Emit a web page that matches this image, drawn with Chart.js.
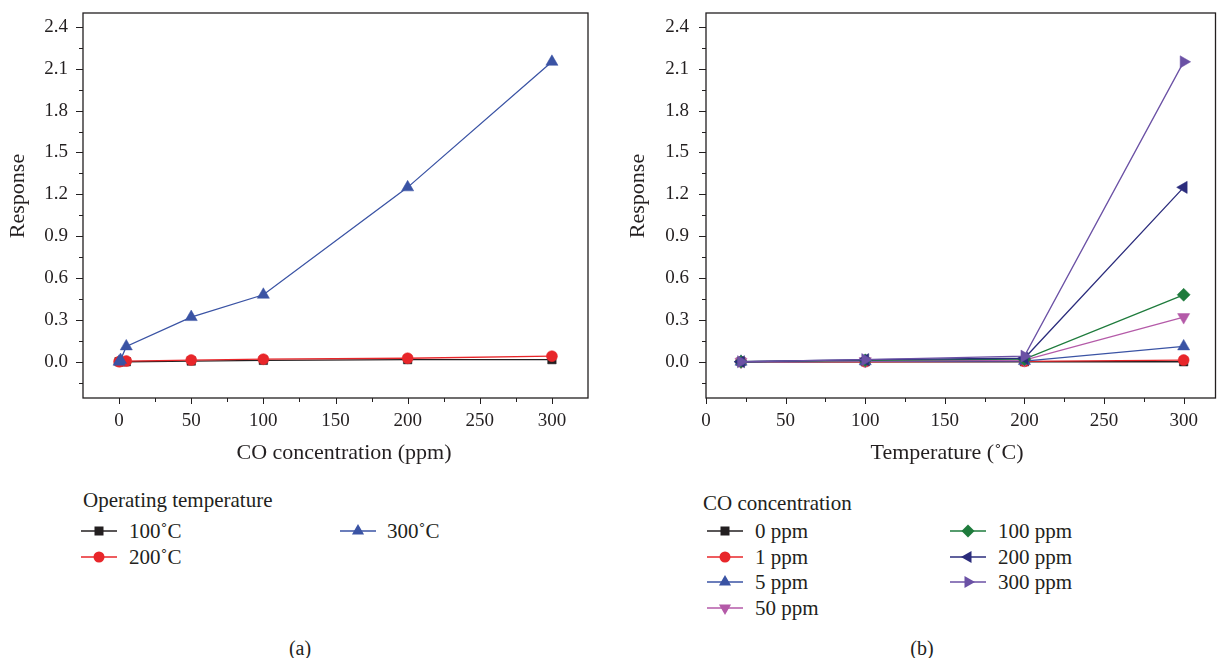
<!DOCTYPE html>
<html><head><meta charset="utf-8">
<script src="https://cdn.jsdelivr.net/npm/chart.js@4/dist/chart.umd.min.js"></script>
<style>
html,body{margin:0;padding:0}
body{width:1223px;height:658px;background:#fff;position:relative;overflow:hidden;font-family:"Liberation Serif","DejaVu Serif",serif;color:#231f20}
canvas{position:absolute}
.lg{position:absolute;font-size:21px;line-height:24px;white-space:nowrap}
.sym{position:absolute;width:36px;height:16px}
.cap{position:absolute;font-size:20px;line-height:24px;transform:translateX(-50%)}
</style>
</head><body>
<div id="wa" style="position:absolute;left:0;top:0;width:612px;height:480px"><canvas id="ca"></canvas></div>
<div id="wb" style="position:absolute;left:612px;top:0;width:611px;height:480px"><canvas id="cb"></canvas></div>
<div id="legends"></div>
<div class="cap" style="left:300px;top:636px">(a)</div>
<div class="cap" style="left:922px;top:636px">(b)</div>
<script>
// ---------- data ----------
const concA = [0, 1, 5, 50, 100, 200, 300];           // CO concentration (ppm)
const resp100C = [0, 0, 0, 0.005, 0.01, 0.015, 0.015];
const resp200C = [0, 0.003, 0.005, 0.012, 0.018, 0.025, 0.04];
const resp300C = [0, 0.012, 0.11, 0.32, 0.48, 1.25, 2.15];

const tempB = [22, 100, 200, 300];                     // Temperature (°C)
const resp0ppm   = [0, 0, 0, 0];
const resp1ppm   = [0, 0, 0.003, 0.012];
const resp5ppm   = [0, 0.003, 0.005, 0.11];
const resp50ppm  = [0, 0.005, 0.012, 0.32];
const resp100ppm = [0, 0.01, 0.018, 0.48];
const resp200ppm = [0, 0.015, 0.025, 1.25];
const resp300ppm = [0, 0.015, 0.04, 2.15];

const yTicks = [0, 0.3, 0.6, 0.9, 1.2, 1.5, 1.8, 2.1, 2.4];
const yMinorTicks = [-0.15, 0.15, 0.45, 0.75, 1.05, 1.35, 1.65, 1.95, 2.25];
const xTicksA = [0, 50, 100, 150, 200, 250, 300];
const xMinorA = [25, 75, 125, 175, 225, 275];
const xTicksB = [0, 50, 100, 150, 200, 250, 300];
const xMinorB = [25, 75, 125, 175, 225, 275];

const seriesA = [
  {label: '100˚C', values: resp100C, color: '#231f20', shape: 'rect'},
  {label: '200˚C', values: resp200C, color: '#e8262a', shape: 'circle'},
  {label: '300˚C', values: resp300C, color: '#3a53a4', shape: 'triangle'}
];
const seriesB = [
  {label: '0 ppm',   values: resp0ppm,   color: '#231f20', shape: 'rect'},
  {label: '1 ppm',   values: resp1ppm,   color: '#e8262a', shape: 'circle'},
  {label: '5 ppm',   values: resp5ppm,   color: '#3a53a4', shape: 'triangle'},
  {label: '50 ppm',  values: resp50ppm,  color: '#b45aa8', shape: 'down'},
  {label: '100 ppm', values: resp100ppm, color: '#1e7b3c', shape: 'diamond'},
  {label: '200 ppm', values: resp200ppm, color: '#2b2c7c', shape: 'left'},
  {label: '300 ppm', values: resp300ppm, color: '#6b51a5', shape: 'right'}
];

// ---------- styling helpers ----------
const FONT = '"Liberation Serif", "DejaVu Serif", serif';
const INK = '#231f20';
function pointProps(shape){
  switch(shape){
    case 'rect': return {pointStyle:'rect', pointRadius:6, rotation:0};
    case 'circle': return {pointStyle:'circle', pointRadius:5.5, rotation:0};
    case 'triangle': return {pointStyle:'triangle', pointRadius:7, rotation:0};
    case 'down': return {pointStyle:'triangle', pointRadius:7, rotation:180};
    case 'left': return {pointStyle:'triangle', pointRadius:7, rotation:-90};
    case 'right': return {pointStyle:'triangle', pointRadius:7, rotation:90};
    case 'diamond': return {pointStyle:'rectRot', pointRadius:6.5, rotation:0};
  }
}
function makeDatasets(series, xs){
  const n = series.length;
  return series.map((s, i) => {
    const p = pointProps(s.shape);
    return {
      label: s.label,
      data: xs.map((x, j) => ({x: x, y: s.values[j]})),
      borderColor: s.color, backgroundColor: s.color,
      pointBackgroundColor: s.color, pointBorderColor: s.color,
      borderWidth: 1.3, pointBorderWidth: 0.5,
      pointStyle: p.pointStyle, pointRadius: p.pointRadius, pointRotation: p.rotation,
      pointHoverRadius: p.pointRadius,
      tension: 0, fill: false, order: n - i, clip: false
    };
  });
}

const framePlugin = {
  id: 'frame',
  afterDraw(chart, args, opts){
    const {ctx, chartArea: a} = chart;
    const xs = chart.scales.x, ys = chart.scales.y;
    ctx.save();
    ctx.strokeStyle = INK; ctx.lineWidth = 1.3;
    ctx.strokeRect(a.left, a.top, a.right - a.left, a.bottom - a.top);
    ctx.lineWidth = 1;
    const xt = (vals, len) => vals.forEach(v => {
      const p = Math.round(xs.getPixelForValue(v)) + 0.5;
      ctx.beginPath(); ctx.moveTo(p, a.bottom); ctx.lineTo(p, a.bottom + len); ctx.stroke();
    });
    const yt = (vals, len) => vals.forEach(v => {
      const p = Math.round(ys.getPixelForValue(v)) + 0.5;
      ctx.beginPath(); ctx.moveTo(a.left, p); ctx.lineTo(a.left - len, p); ctx.stroke();
    });
    xt(opts.xMajor, 6); xt(opts.xMinor, 4);
    yt(yTicks, 7); yt(yMinorTicks, 4);
    // axis titles
    ctx.fillStyle = INK;
    ctx.font = '22px ' + FONT;
    ctx.textAlign = 'center'; ctx.textBaseline = 'middle';
    ctx.fillText(opts.xTitle, opts.xTitlePos[0], opts.xTitlePos[1]);
    ctx.translate(opts.yTitlePos[0], opts.yTitlePos[1]);
    ctx.rotate(-Math.PI / 2);
    ctx.fillText('Response', 0, 0);
    ctx.restore();
  }
};

function zeroPad(s){ s.paddingTop = 0; s.paddingBottom = 0; s.paddingLeft = 0; s.paddingRight = 0; }

function makeChart(id, series, xs, cfg){
  return new Chart(document.getElementById(id), {
    type: 'line',
    data: {datasets: makeDatasets(series, xs)},
    plugins: [framePlugin],
    options: {
      responsive: true, maintainAspectRatio: false, animation: false,
      layout: {padding: cfg.padding},
      plugins: {legend: {display: false}, tooltip: {enabled: false},
                frame: {xMajor: cfg.xMajor, xMinor: cfg.xMinor, xTitle: cfg.xTitle,
                        xTitlePos: cfg.xTitlePos, yTitlePos: cfg.yTitlePos}},
      scales: {
        x: {
          type: 'linear', min: cfg.xMin, max: cfg.xMax,
          grid: {display: false, drawTicks: false}, border: {display: false},
          afterBuildTicks: s => { s.ticks = cfg.xMajor.map(v => ({value: v})); },
          afterFit: s => { s.height = 67; zeroPad(s); },
          ticks: {color: INK, font: {family: FONT, size: 19}, padding: 12, maxRotation: 0,
                  callback: v => String(v)},
          title: {display: false}
        },
        y: {
          type: 'linear', min: -0.26, max: 2.5,
          grid: {display: false, drawTicks: false}, border: {display: false},
          afterBuildTicks: s => { s.ticks = yTicks.map(v => ({value: v})); },
          afterFit: s => { s.width = cfg.yWidth; zeroPad(s); },
          ticks: {color: INK, font: {family: FONT, size: 19}, padding: cfg.yPad,
                  callback: v => Number(v).toFixed(1)},
          title: {display: false}
        }
      }
    }
  });
}

makeChart('ca', seriesA, concA, {
  padding: {left: 0, top: 13, right: 24, bottom: 15},
  xMin: -25, xMax: 325, xMajor: xTicksA, xMinor: xMinorA,
  xTitle: 'CO concentration (ppm)', xTitlePos: [344, 453], yTitlePos: [18, 196],
  yWidth: 83, yPad: 15
});
makeChart('cb', seriesB, tempB, {
  padding: {left: 8, top: 13, right: 4, bottom: 15},
  xMin: 0, xMax: 320, xMajor: xTicksB, xMinor: xMinorB,
  xTitle: 'Temperature (˚C)', xTitlePos: [335, 453], yTitlePos: [26, 196],
  yWidth: 86, yPad: 17
});

// ---------- HTML legends ----------
function symbolSVG(color, shape){
  const cx = 18, cy = 8;
  let m = '';
  if (shape === 'rect') m = `<rect x="${cx-4.5}" y="${cy-4.5}" width="9" height="9" fill="${color}"/>`;
  else if (shape === 'circle') m = `<circle cx="${cx}" cy="${cy}" r="5.5" fill="${color}"/>`;
  else if (shape === 'diamond') m = `<polygon points="${cx},${cy-6.5} ${cx+6.5},${cy} ${cx},${cy+6.5} ${cx-6.5},${cy}" fill="${color}"/>`;
  else {
    const rot = {triangle: 0, down: 180, left: -90, right: 90}[shape];
    m = `<polygon transform="rotate(${rot} ${cx} ${cy})" points="${cx},${cy-7} ${cx+6.06},${cy+3.5} ${cx-6.06},${cy+3.5}" fill="${color}"/>`;
  }
  return `<svg class="sym" viewBox="0 0 36 16"><line x1="0" y1="${cy}" x2="36" y2="${cy}" stroke="${color}" stroke-width="1.4"/>${m}</svg>`;
}
function legend(title, tx, ty, series, slots){
  let html = `<div class="lg" style="left:${tx}px;top:${ty-12}px">${title}</div>`;
  series.forEach((s, i) => {
    const [sx, txx, cy] = slots[i];
    html += `<div style="position:absolute;left:${sx}px;top:${cy-8}px;width:36px;height:16px">${symbolSVG(s.color, s.shape)}</div>`;
    html += `<div class="lg" style="left:${txx}px;top:${cy-12}px">${s.label}</div>`;
  });
  return html;
}
document.getElementById('legends').innerHTML =
  legend('Operating temperature', 83, 500, seriesA, [[81,129,531],[81,129,557],[340,387,531]]) +
  legend('CO concentration', 703, 503, seriesB,
    [[707,755,531],[707,755,557],[707,755,582],[707,755,608],[950,998,531],[950,998,557],[950,998,582]]);
</script>
</body></html>
